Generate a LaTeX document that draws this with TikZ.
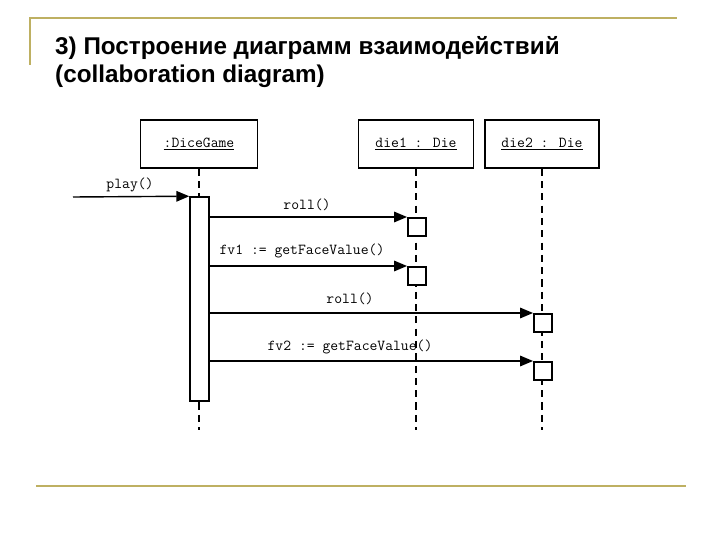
\documentclass[tikz,border=0pt]{standalone}
\usepackage{fontspec}
\setmainfont{Liberation Sans}
\usetikzlibrary{arrows.meta, positioning}
\definecolor{rulegold}{RGB}{190,176,98}

\begin{document}
\begin{tikzpicture}[
    x=0.03cm, y=-0.03cm,
    obj/.style={draw, line width=1.3pt, minimum height=1.44cm, inner sep=0pt, font=\ttfamily\fontsize{13}{15}\selectfont},
    actbar/.style={draw, fill=white, line width=1.3pt, minimum width=0.57cm, minimum height=6.12cm, inner sep=0pt},
    exec/.style={draw, fill=white, line width=1.3pt, minimum size=0.54cm, inner sep=0pt, anchor=north west},
    life/.style={line width=1.4pt, dash pattern=on 6pt off 4.5pt},
    msg/.style={-{Triangle[length=11pt, width=9pt]}, line width=1.2pt},
    mlabel/.style={font=\ttfamily\fontsize{13}{15}\selectfont, inner sep=0pt},
    rule/.style={rulegold, line width=1.5pt},
    ttl/.style={font=\bfseries\fontsize{20.7}{24}\selectfont, anchor=base west, inner sep=0pt},
]
\useasboundingbox (0,0) rectangle (720,540);

% ── Slide frame ──
\draw[rule] (30,65) -- (30,18) -- (677,18);
\draw[rule] (36,486) -- (686,486);

% ── Title ──
\node[ttl] (title1) at (55,55) {3) Построение диаграмм взаимодействий};
\node[ttl] (title2) at (55,83) {(collaboration diagram)};

% ── Objects ──
\node[obj, minimum width=3.51cm] (game) at (199,144) {\underline{:DiceGame}};
\node[obj, minimum width=3.45cm] (die1) at (416,144) {\underline{die1 : Die}};
\node[obj, minimum width=3.42cm] (die2) at (542,144) {\underline{die2 : Die}};

% ── Lifelines ──
\coordinate (lifeend) at (0,430);
\draw[life] (game.south) -- (game.south |- lifeend);
\draw[life] (die1.south) -- (die1.south |- lifeend);
\draw[life] (die2.south) -- (die2.south |- lifeend);

% ── Activations ──
\node[actbar] (bar) at (199.5,299) {};
\node[exec] (x1) at (407,217) {};
\node[exec] (x2) at (407,266) {};
\node[exec] (x3) at (533,313) {};
\node[exec] (x4) at (533,361) {};

% ── Messages ──
\coordinate (caller) at (73,197);
\draw[msg] (caller) -- (bar.north west);
\draw[msg] (bar.east |- x1.north west) -- (x1.north west);
\draw[msg] (bar.east |- x2.north west) -- (x2.north west);
\draw[msg] (bar.east |- x3.north west) -- (x3.north west);
\draw[msg] (bar.east |- x4.north west) -- (x4.north west);

\node[mlabel] (lplay) at (130,185) {play()};
\node[mlabel] (lroll1) at (307,205) {roll()};
\node[mlabel] (lfv1) at (302,251) {fv1 := getFaceValue()};
\node[mlabel] (lroll2) at (350,299) {roll()};
\node[mlabel] (lfv2) at (350,347) {fv2 := getFaceValue()};

\end{tikzpicture}
\end{document}
